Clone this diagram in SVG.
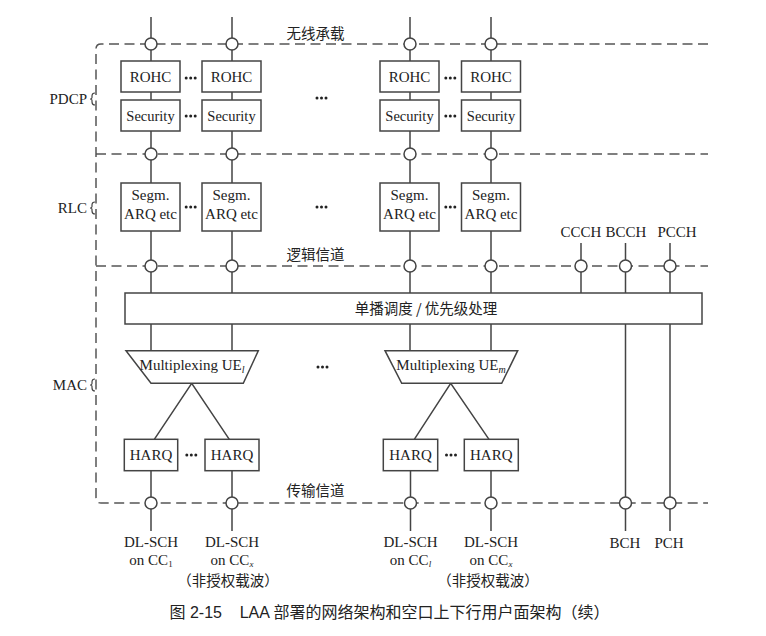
<svg xmlns="http://www.w3.org/2000/svg" width="766" height="636" viewBox="0 0 766 636">
<defs>
<style>
.ln{stroke:#444;stroke-width:1.5;fill:none}
.ds{stroke:#555;stroke-width:1.5;fill:none;stroke-dasharray:10 5.5}
.bx{stroke:#444;stroke-width:1.5;fill:#fff}
.cr{stroke:#444;stroke-width:1.5;fill:#fff}
.t{font-family:"Liberation Serif","Times New Roman",serif;font-size:15px;fill:#222;text-anchor:middle}
.ts{font-family:"Liberation Serif","Times New Roman",serif;font-size:14.5px;fill:#222;text-anchor:middle}
.lb{font-family:"Liberation Serif","Times New Roman",serif;font-size:15px;fill:#222;text-anchor:end}
.cn{font-family:"Noto Sans CJK SC","Noto Sans",sans-serif;font-size:14.5px;fill:#222;text-anchor:middle}
.cap{font-family:"Liberation Sans","Noto Sans CJK SC",sans-serif;font-size:16px;fill:#222;text-anchor:middle}
</style>
<g id="dots3"><circle cx="-4.5" cy="0" r="1.5" fill="#222"/><circle cx="0" cy="0" r="1.5" fill="#222"/><circle cx="4.5" cy="0" r="1.5" fill="#222"/></g>
<path id="brace" d="M4,-6 Q1,-6 1,-3 L1,-1.5 Q1,0 -1,0 Q1,0 1,1.5 L1,3 Q1,6 4,6" stroke="#444" stroke-width="1.2" fill="none"/>
</defs>
<rect width="766" height="636" fill="#fff"/>

<!-- layer labels -->
<g id="layer-labels">
<text class="lb" x="87" y="104">PDCP</text>
<use href="#brace" x="91" y="99"/>
<text class="lb" x="87" y="213">RLC</text>
<use href="#brace" x="91" y="208"/>
<text class="lb" x="87" y="390">MAC</text>
<use href="#brace" x="91" y="385"/>
</g>

<!-- dashed boundaries -->
<g id="boundaries">
<path class="ds" d="M708,44 H101 Q96,44 96,49 V498 Q96,503 101,503 H708"/>
<path class="ds" d="M96,154 H708"/>
<path class="ds" d="M96,266 H708"/>
<text class="cn" x="315.5" y="39">无线承载</text>
<text class="cn" x="315.5" y="260">逻辑信道</text>
<text class="cn" x="315.5" y="496">传输信道</text>
</g>

<!-- connectors -->
<g id="connectors">
<path class="ln" d="M151,17 V61 M151,92 V100 M151,131 V183 M151,231 V293 M151,324 V351"/>
<path class="ln" d="M232,17 V61 M232,92 V100 M232,131 V183 M232,231 V293 M232,324 V351"/>
<path class="ln" d="M410,17 V61 M410,92 V100 M410,131 V183 M410,231 V293 M410,324 V351"/>
<path class="ln" d="M491,17 V61 M491,92 V100 M491,131 V183 M491,231 V293 M491,324 V351"/>
<path class="ln" d="M581,243 V293"/>
<path class="ln" d="M625.5,243 V293 M625.5,324 V531"/>
<path class="ln" d="M670,243 V293 M670,324 V531"/>
<path class="ln" d="M154.3,439.3 L191.7,383.3 L229.3,439.3"/>
<path class="ln" d="M414.3,439.3 L450.7,383.3 L489,439.3"/>
<path class="ln" d="M151,471 V531 M232,471 V531 M410.5,471 V531 M491,471 V531"/>
</g>

<!-- SAP circles -->
<g id="saps">
<circle class="cr" cx="151" cy="44" r="6"/><circle class="cr" cx="232" cy="44" r="6"/>
<circle class="cr" cx="410" cy="44" r="6"/><circle class="cr" cx="491" cy="44" r="6"/>
<circle class="cr" cx="151" cy="154" r="6"/><circle class="cr" cx="232" cy="154" r="6"/>
<circle class="cr" cx="410" cy="154" r="6"/><circle class="cr" cx="491" cy="154" r="6"/>
<circle class="cr" cx="151" cy="266" r="6"/><circle class="cr" cx="232" cy="266" r="6"/>
<circle class="cr" cx="410" cy="266" r="6"/><circle class="cr" cx="491" cy="266" r="6"/>
<circle class="cr" cx="581" cy="266" r="6"/><circle class="cr" cx="625.5" cy="266" r="6"/>
<circle class="cr" cx="670" cy="266" r="6"/>
<circle class="cr" cx="151" cy="503" r="6"/><circle class="cr" cx="232" cy="503" r="6"/>
<circle class="cr" cx="410.5" cy="503" r="6"/><circle class="cr" cx="491" cy="503" r="6"/>
<circle class="cr" cx="625.5" cy="503" r="6"/><circle class="cr" cx="670" cy="503" r="6"/>
</g>

<!-- PDCP -->
<g id="rohc1"><rect class="bx" x="121" y="61" width="59" height="31"/><text class="t" x="150.5" y="82">ROHC</text></g>
<g id="rohc2"><rect class="bx" x="202" y="61" width="59" height="31"/><text class="t" x="231.5" y="82">ROHC</text></g>
<g id="rohc3"><rect class="bx" x="380" y="61" width="59" height="31"/><text class="t" x="409.5" y="82">ROHC</text></g>
<g id="rohc4"><rect class="bx" x="461.5" y="61" width="59" height="31"/><text class="t" x="491" y="82">ROHC</text></g>
<g id="sec1"><rect class="bx" x="121" y="100" width="59" height="31"/><text class="ts" x="150.5" y="121">Security</text></g>
<g id="sec2"><rect class="bx" x="202" y="100" width="59" height="31"/><text class="ts" x="231.5" y="121">Security</text></g>
<g id="sec3"><rect class="bx" x="380" y="100" width="59" height="31"/><text class="ts" x="409.5" y="121">Security</text></g>
<g id="sec4"><rect class="bx" x="461.5" y="100" width="59" height="31"/><text class="ts" x="491" y="121">Security</text></g>

<!-- RLC -->
<g id="segm1"><rect class="bx" x="121" y="183" width="59" height="48"/><text class="t" x="150.5" y="200">Segm.</text><text class="t" x="150.5" y="219">ARQ etc</text></g>
<g id="segm2"><rect class="bx" x="202" y="183" width="59" height="48"/><text class="t" x="231.5" y="200">Segm.</text><text class="t" x="231.5" y="219">ARQ etc</text></g>
<g id="segm3"><rect class="bx" x="380" y="183" width="59" height="48"/><text class="t" x="409.5" y="200">Segm.</text><text class="t" x="409.5" y="219">ARQ etc</text></g>
<g id="segm4"><rect class="bx" x="461.5" y="183" width="59" height="48"/><text class="t" x="491" y="200">Segm.</text><text class="t" x="491" y="219">ARQ etc</text></g>

<!-- ellipses -->
<g id="ellipses">
<use href="#dots3" x="190.7" y="78"/><use href="#dots3" x="450.3" y="78"/>
<use href="#dots3" x="190.7" y="116"/><use href="#dots3" x="450.3" y="116"/>
<use href="#dots3" x="190.7" y="207"/><use href="#dots3" x="450.3" y="207"/>
<use href="#dots3" x="191.3" y="455"/><use href="#dots3" x="451" y="455"/>
<use href="#dots3" x="321.5" y="98"/><use href="#dots3" x="321.5" y="207"/>
<use href="#dots3" x="322.5" y="367"/>
</g>

<!-- MAC -->
<g id="sched"><rect class="bx" x="125" y="293" width="577" height="31"/><text class="cn" x="426" y="313.5" xml:space="preserve">单播调度 / 优先级处理</text></g>
<g id="mux1"><path class="bx" d="M126,350.7 H258.3 L243.3,383.3 H151 Z"/><text class="t" x="192" y="370">Multiplexing UE<tspan font-size="10" font-style="italic" dy="3">l</tspan></text></g>
<g id="mux2"><path class="bx" d="M385,350.7 H517.7 L501.7,383.3 H401.7 Z"/><text class="t" x="451" y="370">Multiplexing UE<tspan font-size="10" font-style="italic" dy="3">m</tspan></text></g>
<g id="harq1"><rect class="bx" x="124.3" y="439.3" width="53.4" height="31.4"/><text class="t" x="151" y="460">HARQ</text></g>
<g id="harq2"><rect class="bx" x="205" y="439.3" width="54" height="31.4"/><text class="t" x="232" y="460">HARQ</text></g>
<g id="harq3"><rect class="bx" x="383.3" y="439.3" width="54.4" height="31.4"/><text class="t" x="410.5" y="460">HARQ</text></g>
<g id="harq4"><rect class="bx" x="464.3" y="439.3" width="54" height="31.4"/><text class="t" x="491.3" y="460">HARQ</text></g>

<!-- channel labels -->
<g id="logical-labels">
<text class="t" x="581" y="237">CCCH</text>
<text class="t" x="626" y="237">BCCH</text>
<text class="t" x="677" y="237">PCCH</text>
</g>
<g id="transport-labels">
<text class="t" x="151" y="547">DL-SCH</text>
<text class="t" x="151" y="565">on CC<tspan font-size="9" dy="2">1</tspan></text>
<text class="t" x="232" y="547">DL-SCH</text>
<text class="t" x="232" y="565">on CC<tspan font-size="9" font-style="italic" dy="2">x</tspan></text>
<text class="cn" x="228" y="586">（非授权载波）</text>
<text class="t" x="410.5" y="547">DL-SCH</text>
<text class="t" x="410.5" y="565">on CC<tspan font-size="9" font-style="italic" dy="2">l</tspan></text>
<text class="t" x="491" y="547">DL-SCH</text>
<text class="t" x="491" y="565">on CC<tspan font-size="9" font-style="italic" dy="2">x</tspan></text>
<text class="cn" x="488" y="586">（非授权载波）</text>
<text class="t" x="625" y="548">BCH</text>
<text class="t" x="669" y="548">PCH</text>
</g>

<text class="cap" x="389.5" y="618" xml:space="preserve">图 2-15    LAA 部署的网络架构和空口上下行用户面架构（续）</text>
</svg>
